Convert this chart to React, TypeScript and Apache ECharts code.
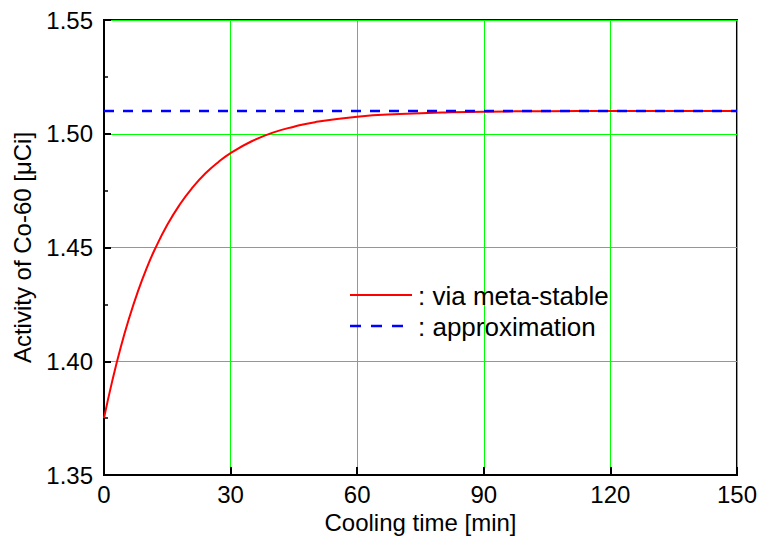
import React, { useEffect, useRef } from "react";
import * as echarts from "echarts";

const coolingTime = [0, 2, 4, 6, 8, 10, 12, 15, 18, 21, 24, 27, 30, 35, 40, 45, 50, 60, 70, 80, 90, 105, 120, 150];
const activityMeta = [1.375, 1.3917, 1.4064, 1.4192, 1.4305, 1.4404, 1.449, 1.46, 1.469, 1.4764, 1.4825, 1.4874, 1.4915, 1.4967, 1.5005, 1.5031, 1.5051, 1.5075, 1.5087, 1.5093, 1.5097, 1.5099, 1.51, 1.51];
const approxTime = [0, 150];
const approxValue = [1.51, 1.51];
const legendLabels = [": via meta-stable", ": approximation"];

const FONT = "Liberation Sans, Arial, sans-serif";
const FS = 24;
const LEGEND_FS = 26;

export default function App() {
  const ref = useRef<HTMLDivElement>(null);
  useEffect(() => {
    document.body.style.margin = "0";
    if (!ref.current) return;
    const chart = echarts.init(ref.current, undefined, { renderer: "svg" });
    chart.setOption({
      animation: false,
      backgroundColor: "#ffffff",
      textStyle: { fontFamily: FONT },
      grid: {
        left: 104,
        top: 20,
        right: 23,
        bottom: 65,
        show: true,
        borderColor: "#000",
        borderWidth: 2,
        backgroundColor: "transparent",
      },
      graphic: [
        {
          type: "line",
          shape: { x1: 350, y1: 295, x2: 412, y2: 295 },
          style: { stroke: "#ff0000", lineWidth: 2 },
          z: 10,
        },
        {
          type: "text",
          x: 418,
          y: 296,
          style: { text: legendLabels[0], fontSize: LEGEND_FS, fontFamily: FONT, fill: "#000", verticalAlign: "middle", align: "left" },
          z: 10,
        },
        {
          type: "line",
          shape: { x1: 350, y1: 326, x2: 405, y2: 326 },
          style: { stroke: "#0000ff", lineWidth: 2.5, lineDash: [11, 10] },
          z: 10,
        },
        {
          type: "text",
          x: 418,
          y: 327,
          style: { text: legendLabels[1], fontSize: LEGEND_FS, fontFamily: FONT, fill: "#000", verticalAlign: "middle", align: "left" },
          z: 10,
        },
      ],
      xAxis: {
        type: "value",
        min: 0,
        max: 150,
        interval: 30,
        name: "Cooling time [min]",
        nameLocation: "middle",
        nameGap: 34,
        nameTextStyle: { fontSize: FS, color: "#000", fontFamily: FONT },
        axisLine: { show: true, lineStyle: { color: "#000", width: 2 } },
        axisTick: { show: true, inside: true, length: 8, lineStyle: { color: "#000", width: 2 } },
        axisLabel: { fontSize: FS, color: "#000", margin: 7, fontFamily: FONT },
        splitLine: { show: true, lineStyle: { color: "#00ff00", width: 1 } },
      },
      yAxis: {
        type: "value",
        min: 1.35,
        max: 1.55,
        interval: 0.05,
        name: "Activity of Co-60 [μCi]",
        nameLocation: "middle",
        nameGap: 70,
        nameTextStyle: { fontSize: FS, color: "#000", fontFamily: FONT },
        axisLine: { show: true, lineStyle: { color: "#000", width: 2 } },
        axisTick: { show: true, inside: true, length: 7, lineStyle: { color: "#000", width: 2 } },
        minorTick: { show: true, splitNumber: 2, length: 4, lineStyle: { color: "#000", width: 1.5 } },
        axisLabel: {
          fontSize: FS,
          color: "#000",
          margin: 11,
          fontFamily: FONT,
          formatter: (v: number) => v.toFixed(2),
        },
        splitLine: { show: true, lineStyle: { color: "#00ff00", width: 1 } },
      },
      series: [
        {
          name: "via meta-stable",
          type: "line",
          smooth: true,
          symbol: "none",
          data: coolingTime.map((t, i) => [t, activityMeta[i]]),
          lineStyle: { color: "#ff0000", width: 2 },
          z: 3,
        },
        {
          name: "approximation",
          type: "line",
          symbol: "none",
          data: approxTime.map((t, i) => [t, approxValue[i]]),
          lineStyle: { color: "#0000ff", width: 2.5, type: [10, 9] },
          z: 4,
        },
      ],
    });
    return () => chart.dispose();
  }, []);
  return <div ref={ref} style={{ width: 760, height: 540 }} />;
}
